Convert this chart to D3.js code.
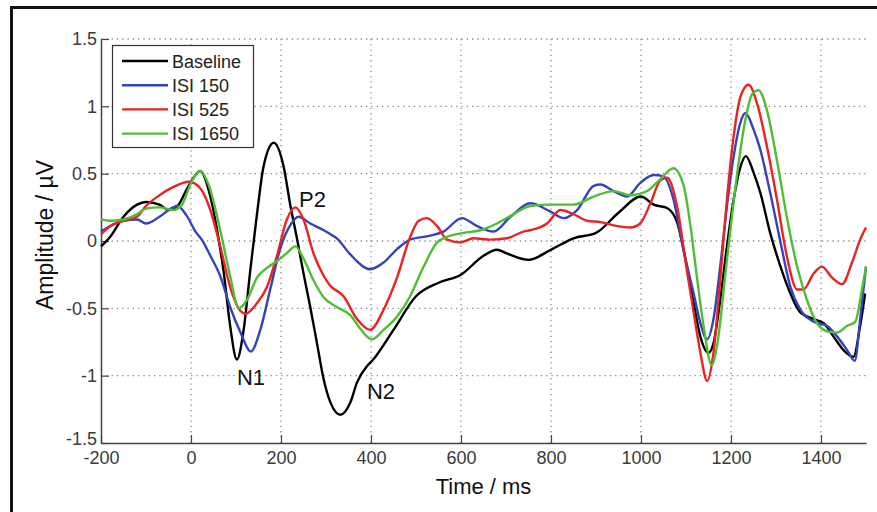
<!DOCTYPE html>
<html lang="en">
<head>
<meta charset="UTF-8">
<script src="https://d3js.org/d3.v7.min.js"></script>
<title>ERP amplitude over time</title>
<style>
    body { margin: 0; background: #fff; }
    svg { display: block; font-family: "Liberation Sans", Arial, sans-serif; }
</style>
</head>
<body>
<svg width="877" height="512"></svg>
<script>
// series names and colours
const seriesNames = ['Baseline', 'ISI 150', 'ISI 525', 'ISI 1650'];
const seriesColors = ['#000000', '#3344b8', '#ec2222', '#4fbe35'];

// tick values
const xTicks = [-200, 0, 200, 400, 600, 800, 1000, 1200, 1400];
const yTicks = [-1.5, -1, -0.5, 0, 0.5, 1, 1.5];

// peak labels: name, time, amplitude of the text baseline
const peakNames = ['N1', 'P2', 'N2'];
const peakTimes = [102, 240, 391];
const peakValues = [-1.07, 0.25, -1.17];

// time (ms) and amplitude (uV)
const baselineT = [-200,-180,-150,-120,-100,-70,-50,-30,-10,10,20,43,58,73,87,102,117,132,147,161,184,206,221,236,250,265,280,295,310,332,354,369,391,405,450,500,550,600,650,680,700,750,800,850,900,950,1000,1028,1058,1080,1102,1117,1132,1150,1161,1176,1191,1206,1221,1233,1250,1265,1287,1310,1332,1354,1384,1406,1428,1450,1472,1487,1498];
const baselineV = [-0.04,0.03,0.18,0.27,0.29,0.27,0.23,0.26,0.38,0.49,0.52,0.33,0.08,-0.24,-0.63,-0.88,-0.66,-0.21,0.21,0.55,0.73,0.55,0.26,0.01,-0.24,-0.49,-0.76,-1.03,-1.2,-1.29,-1.2,-1.05,-0.93,-0.88,-0.66,-0.41,-0.31,-0.25,-0.11,-0.065,-0.09,-0.14,-0.065,0.02,0.06,0.21,0.33,0.27,0.245,0.14,-0.19,-0.46,-0.71,-0.83,-0.76,-0.44,-0.04,0.31,0.55,0.63,0.51,0.36,0.06,-0.19,-0.39,-0.53,-0.58,-0.61,-0.71,-0.81,-0.86,-0.63,-0.39];

const isi150T = [-200,-180,-150,-120,-100,-70,-40,-30,-10,10,24,43,65,87,110,133,154,176,198,221,239,265,295,310,324,354,398,428,458,487,532,561,602,636,672,710,754,798,828,858,895,910,939,969,998,1028,1050,1072,1094,1117,1132,1147,1161,1176,1191,1206,1221,1232,1250,1265,1287,1310,1332,1354,1384,1413,1436,1458,1475,1487,1500];
const isi150V = [0.07,0.11,0.15,0.16,0.13,0.18,0.25,0.26,0.19,0.07,0.01,-0.11,-0.26,-0.49,-0.68,-0.82,-0.66,-0.36,-0.06,0.12,0.18,0.13,0.08,0.05,0.02,-0.1,-0.21,-0.16,-0.06,0.01,0.04,0.07,0.17,0.11,0.07,0.18,0.28,0.22,0.17,0.23,0.41,0.42,0.37,0.33,0.43,0.49,0.48,0.31,-0.06,-0.39,-0.61,-0.73,-0.58,-0.19,0.26,0.63,0.88,0.95,0.83,0.68,0.36,-0.01,-0.34,-0.51,-0.6,-0.63,-0.71,-0.81,-0.89,-0.58,-0.19];

const isi525T = [-200,-180,-150,-120,-100,-70,-40,-5,21,43,65,87,110,121,147,169,191,213,232,250,272,295,309,339,369,398,428,458,487,506,524,547,569,598,628,665,702,739,754,791,821,850,880,910,947,976,998,1021,1043,1058,1080,1102,1117,1132,1147,1161,1176,1191,1206,1221,1239,1258,1280,1302,1324,1347,1361,1384,1402,1424,1447,1469,1487,1500];
const isi525V = [0.05,0.11,0.15,0.18,0.26,0.34,0.4,0.44,0.39,0.23,-0.04,-0.34,-0.52,-0.54,-0.46,-0.34,-0.11,0.16,0.25,0.16,-0.09,-0.26,-0.33,-0.41,-0.58,-0.66,-0.51,-0.27,0.03,0.15,0.17,0.11,0.01,-0.01,0.02,0.01,0.02,0.07,0.08,0.13,0.23,0.2,0.15,0.14,0.11,0.1,0.13,0.28,0.45,0.47,0.26,-0.22,-0.53,-0.83,-1.04,-0.83,-0.29,0.31,0.78,1.07,1.16,1.02,0.7,0.31,-0.11,-0.36,-0.36,-0.24,-0.19,-0.27,-0.32,-0.16,0.01,0.1];

const isi1650T = [-200,-180,-150,-120,-100,-70,-40,-20,0,20,40,65,87,106,124,147,169,191,213,232,250,272,295,324,354,376,402,428,458,487,517,547,569,606,643,680,717,754,798,850,895,939,976,1013,1043,1072,1094,1110,1124,1139,1157,1172,1187,1202,1217,1232,1247,1261,1280,1302,1324,1347,1369,1391,1413,1436,1458,1476,1491,1500];
const isi1650V = [0.16,0.15,0.16,0.2,0.24,0.25,0.23,0.27,0.43,0.52,0.41,0.08,-0.26,-0.5,-0.44,-0.27,-0.2,-0.15,-0.09,-0.04,-0.13,-0.29,-0.42,-0.49,-0.55,-0.65,-0.73,-0.66,-0.56,-0.41,-0.19,-0.01,0.03,0.06,0.08,0.13,0.2,0.26,0.27,0.27,0.33,0.37,0.34,0.37,0.46,0.54,0.42,0.11,-0.26,-0.63,-0.92,-0.71,-0.26,0.18,0.58,0.9,1.09,1.12,0.97,0.6,0.18,-0.19,-0.44,-0.61,-0.67,-0.68,-0.63,-0.6,-0.36,-0.19];

const seriesT = [baselineT, isi150T, isi525T, isi1650T];
const seriesV = [baselineV, isi150V, isi525V, isi1650V];

const margin = { top: 39, right: 11, bottom: 69, left: 101 };
const width = 877, height = 512;

const svg = d3.select('svg');

// outer frame (top and left edges of the figure border)
svg.append('path')
    .attr('d', `M11.5,${height} V7.5 H${width}`)
    .attr('fill', 'none')
    .attr('stroke', '#111')
    .attr('stroke-width', 3);

const xScale = d3.scaleLinear()
    .domain([-200, 1500])
    .range([margin.left, width - margin.right]);

const yScale = d3.scaleLinear()
    .domain([-1.5, 1.5])
    .range([height - margin.bottom, margin.top]);

// dotted grid
const grid = svg.append('g')
    .attr('stroke', '#8a8a8a')
    .attr('stroke-width', 1.3)
    .attr('stroke-dasharray', '1.3,4');

grid.selectAll('.vgrid')
    .data(xTicks.filter(d => d > -200))
    .enter().append('line')
    .attr('x1', d => xScale(d)).attr('x2', d => xScale(d))
    .attr('y1', yScale(-1.5)).attr('y2', yScale(1.5));

grid.selectAll('.hgrid')
    .data(yTicks.filter(d => d > -1.5))
    .enter().append('line')
    .attr('x1', xScale(-200)).attr('x2', xScale(1500))
    .attr('y1', d => yScale(d)).attr('y2', d => yScale(d));

// axes
const xAxis = d3.axisBottom(xScale)
    .tickValues(xTicks)
    .tickSizeInner(-8)
    .tickSizeOuter(0)
    .tickPadding(8)
    .tickFormat(d => String(d));

const yAxis = d3.axisLeft(yScale)
    .tickValues(yTicks)
    .tickSizeInner(-8)
    .tickSizeOuter(0)
    .tickPadding(4)
    .tickFormat(d => String(d));

const gx = svg.append('g')
    .attr('transform', `translate(0, ${yScale(-1.5)})`)
    .call(xAxis);

const gy = svg.append('g')
    .attr('transform', `translate(${xScale(-200)}, 0)`)
    .call(yAxis);

[gx, gy].forEach(g => {
    g.select('.domain').attr('stroke', '#444').attr('stroke-width', 1.5);
    g.selectAll('.tick line').attr('stroke', '#444').attr('stroke-width', 1.2);
    g.selectAll('.tick text')
        .attr('fill', '#3a3a3a')
        .style('font-size', '18px')
        .style('font-family', '"Liberation Sans", Arial, sans-serif');
});
// bottom-left y label sits a little above the corner
gy.selectAll('.tick text').filter(d => d === -1.5).attr('dy', '0.1em');

// curves
const line = d3.line()
    .x(d => xScale(d[0]))
    .y(d => yScale(d[1]))
    .curve(d3.curveMonotoneX);

seriesNames.forEach((name, i) => {
    const points = seriesT[i].map((t, j) => [t, seriesV[i][j]]);
    svg.append('path')
        .datum(points)
        .attr('fill', 'none')
        .attr('stroke', seriesColors[i])
        .attr('stroke-width', 2.4)
        .attr('stroke-linejoin', 'round')
        .attr('d', line);
});

// peak labels
svg.selectAll('.peak')
    .data(peakNames)
    .enter().append('text')
    .attr('x', (d, i) => xScale(peakTimes[i]))
    .attr('y', (d, i) => yScale(peakValues[i]))
    .attr('text-anchor', 'start')
    .attr('fill', '#111')
    .style('font-size', '22px')
    .text(d => d);

// legend
const legend = svg.append('g');
legend.append('rect')
    .attr('x', 112.5).attr('y', 45.5)
    .attr('width', 141).attr('height', 102)
    .attr('fill', '#fff')
    .attr('stroke', '#333')
    .attr('stroke-width', 1.2);

seriesNames.forEach((name, i) => {
    const ly = 61 + i * 24.2;
    legend.append('line')
        .attr('x1', 122).attr('x2', 168)
        .attr('y1', ly).attr('y2', ly)
        .attr('stroke', seriesColors[i])
        .attr('stroke-width', 2.4);
    legend.append('text')
        .attr('x', 172).attr('y', ly + 6.5)
        .attr('fill', '#222')
        .style('font-size', '18px')
        .text(name);
});

// axis titles
svg.append('text')
    .attr('x', (xScale(-200) + xScale(1500)) / 2)
    .attr('y', 494)
    .attr('text-anchor', 'middle')
    .attr('fill', '#111')
    .style('font-size', '22px')
    .text('Time / ms');

svg.append('text')
    .attr('transform', `translate(53, ${yScale(0) - 6}) rotate(-90)`)
    .attr('text-anchor', 'middle')
    .attr('fill', '#111')
    .style('font-size', '23px')
    .text('Amplitude / µV');
</script>
</body>
</html>
